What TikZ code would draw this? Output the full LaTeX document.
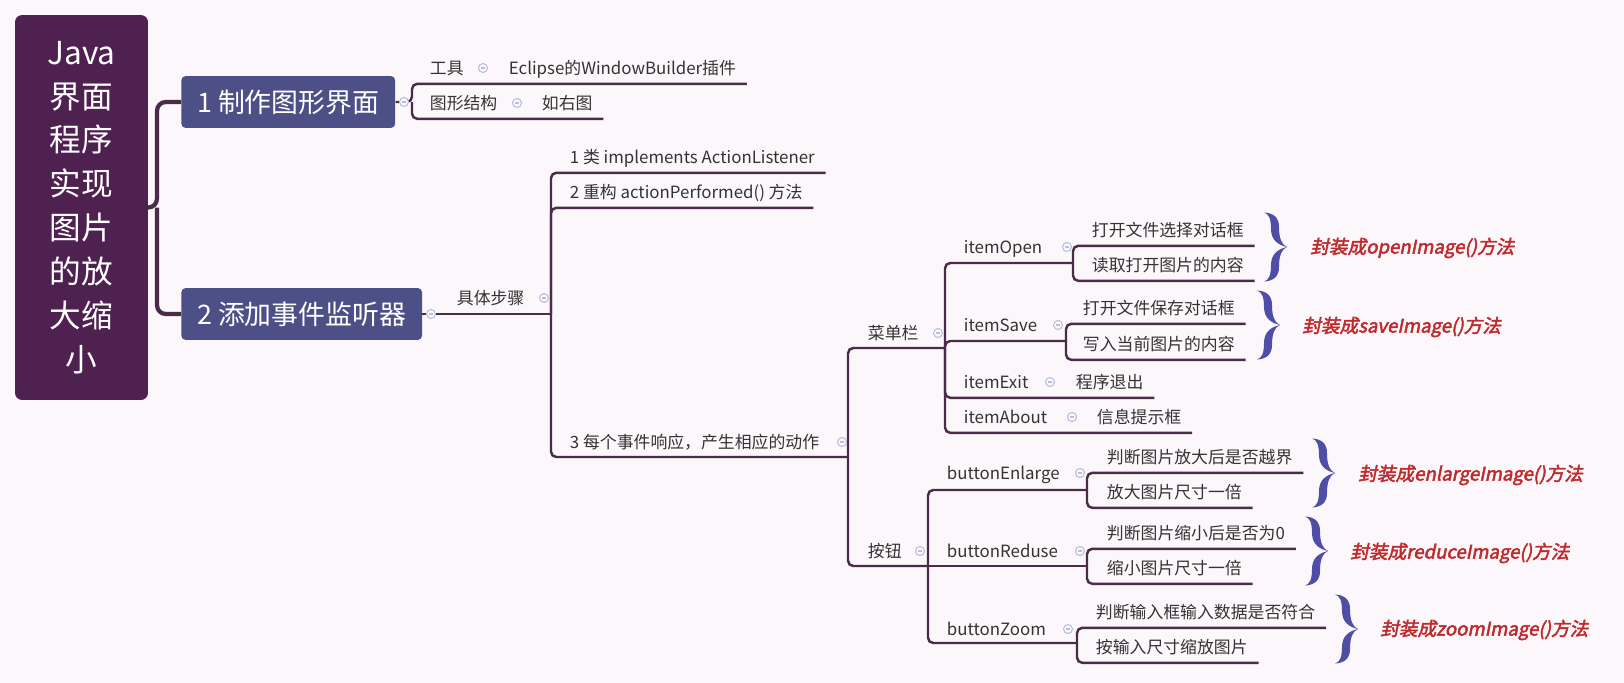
\documentclass[tikz,border=0pt]{standalone}
\usepackage{fontspec}
\setmainfont{Noto Sans CJK SC}
\newfontfamily\redfont{Noto Sans CJK SC}[FakeSlant=0.2, FakeBold=2.5]
\definecolor{Cbg}{HTML}{FCF7FB}
\definecolor{Croot}{HTML}{4F2151}
\definecolor{Ctop}{HTML}{4D5086}
\definecolor{Cln}{HTML}{4A2C48}
\definecolor{Ctx}{HTML}{333333}
\definecolor{Cbr}{HTML}{4E4EA6}
\definecolor{Cred}{HTML}{BF2A2C}
\definecolor{Cfold}{HTML}{B7BFD8}
\tikzset{
  rootn/.style  = {fill=Croot, text=white, rounded corners=4pt,
                   minimum width=2.66cm, minimum height=7.7cm,
                   align=center, font=\fontsize{18}{25}\selectfont, inner sep=0pt},
  topic/.style  = {fill=Ctop, text=white, rounded corners=2.5pt, anchor=west,
                   minimum height=1.04cm, inner xsep=9pt,
                   font=\fontsize{15.3}{18}\selectfont},
  lbl/.style    = {anchor=west, text=Ctx, font=\fontsize{9.6}{11}\selectfont,
                   text height=8.4pt, text depth=1.2pt, inner xsep=6pt, inner ysep=4pt},
  redl/.style   = {anchor=west, text=Cred, font=\redfont\fontsize{10.6}{12}\selectfont,
                   inner sep=0pt},
  foldm/.style  = {circle, draw=Cfold, fill=Cbg, line width=0.6pt,
                   minimum size=0.18cm, inner sep=0pt,
                   path picture={\draw[Cfold, line width=0.6pt]
                     ([xshift=1.3pt]path picture bounding box.west) --
                     ([xshift=-1.3pt]path picture bounding box.east);}},
  ln/.style     = {draw=Cln, line width=1.4pt, rounded corners=3pt},
  rootln/.style = {draw=Cln, line width=2.4pt, rounded corners=5pt},
  cbrace/.pic   = {
    \fill[Cbr] (0,0) .. controls (-5,-2) and (-8,-8) .. (-8,-20)
      .. controls (-8,-29) and (-13,-34) .. (-23,-34.5)
      .. controls (-18,-33) and (-16,-28) .. (-16,-18)
      .. controls (-16,-7) and (-9,-2) .. (0,0) -- cycle;
    \begin{scope}[yscale=-1]
    \fill[Cbr] (0,0) .. controls (-5,-2) and (-8,-8) .. (-8,-20)
      .. controls (-8,-29) and (-13,-34) .. (-23,-34.5)
      .. controls (-18,-33) and (-16,-28) .. (-16,-18)
      .. controls (-16,-7) and (-9,-2) .. (0,0) -- cycle;
    \end{scope}
  },
}

\begin{document}
\begin{tikzpicture}[x=0.02cm, y=-0.02cm]

\fill[Cbg] (0,0) rectangle (1624,683);

%%──────────────────────────────────────────────────
%% Root and main topics
%%──────────────────────────────────────────────────
\node[rootn] (root) at (81.5,207.5)
  {Java\\界面\\程序\\实现\\图片\\的放\\大缩\\小};

\node[topic] (t1) at (181,102) {1 制作图形界面};
\node[topic] (t2) at (181,314) {2 添加事件监听器};

\coordinate (jRoot) at (157,207.5);
\draw[rootln] (root.east) -- (jRoot) |- (t1.west);
\draw[rootln] (jRoot) |- (t2.west);

%%──────────────────────────────────────────────────
%% Topic 1
%%──────────────────────────────────────────────────
\node[lbl] (gongju)  at (419,68)  {工具};
\node[lbl] (eclipse) at (498,68)  {Eclipse的WindowBuilder插件};
\node[lbl] (jiegou)  at (419,103) {图形结构};
\node[lbl] (rutu)    at (531,103) {如右图};

\coordinate (jT1) at (412,102);
\draw[ln] (t1.east) -- (jT1) |- (eclipse.south east);
\draw[ln] (jT1) |- (rutu.south east);

%%──────────────────────────────────────────────────
%% Topic 2: steps
%%──────────────────────────────────────────────────
\node[lbl] (bz) at (446,298) {具体步骤};
\node[lbl] (s1) at (559,157) {1 类 implements ActionListener};
\node[lbl] (s2) at (559,192) {2 重构 actionPerformed() 方法};
\node[lbl] (s3) at (559,442) {3 每个事件响应，产生相应的动作};

\coordinate (jBz) at (551,314);
\coordinate (jS3) at (848,457);
\draw[ln] (t2.east) -- (jBz);
\draw[ln] (jBz) |- (s1.south east);
\draw[ln] (jBz) |- (s2.south east);
\draw[ln] (jBz) |- (jS3);

%%──────────────────────────────────────────────────
%% Menu items
%%──────────────────────────────────────────────────
\node[lbl] (menu)   at (857,333)  {菜单栏};
\node[lbl] (iopen)  at (953,247)  {itemOpen};
\node[lbl] (o1)     at (1081,230) {打开文件选择对话框};
\node[lbl] (o2)     at (1081,265) {读取打开图片的内容};
\node[lbl] (isave)  at (953,325)  {itemSave};
\node[lbl] (v1)     at (1072,308) {打开文件保存对话框};
\node[lbl] (v2)     at (1072,344) {写入当前图片的内容};
\node[lbl] (iexit)  at (953,382)  {itemExit};
\node[lbl] (x1)     at (1065,382) {程序退出};
\node[lbl] (iabout) at (953,417)  {itemAbout};
\node[lbl] (a1)     at (1086,417) {信息提示框};

\coordinate (jMenu) at (945,348);
\coordinate (jOpen) at (1073,263);
\coordinate (jSave) at (1066,341);
\draw[ln] (jS3) |- (jMenu);
\draw[ln] (jMenu) |- (jOpen);
\draw[ln] (jMenu) |- (jSave);
\draw[ln] (jMenu) |- (x1.south east);
\draw[ln] (jMenu) |- (a1.south east);
\draw[ln] (jOpen) |- (o1.south east);
\draw[ln] (jOpen) |- (o2.south east);
\draw[ln] (jSave) |- (v1.south east);
\draw[ln] (jSave) |- (v2.south east);

%%──────────────────────────────────────────────────
%% Buttons
%%──────────────────────────────────────────────────
\node[lbl] (btn)   at (857,551)  {按钮};
\node[lbl] (benl)  at (936,473)  {buttonEnlarge};
\node[lbl] (e1)    at (1096,457) {判断图片放大后是否越界};
\node[lbl] (e2)    at (1096,492) {放大图片尺寸一倍};
\node[lbl] (bred)  at (936,551)  {buttonReduse};
\node[lbl] (r1)    at (1096,533) {判断图片缩小后是否为0};
\node[lbl] (r2)    at (1096,568) {缩小图片尺寸一倍};
\node[lbl] (bzoom) at (936,629)  {buttonZoom};
\node[lbl] (z1)    at (1085,612) {判断输入框输入数据是否符合};
\node[lbl] (z2)    at (1085,647) {按输入尺寸缩放图片};

\coordinate (jBtn)  at (928,566);
\coordinate (jEnl)  at (1087,490);
\coordinate (jRed)  at (1087,566);
\coordinate (jZoom) at (1077,643);
\draw[ln] (jS3) |- (jBtn);
\draw[ln] (jBtn) |- (jEnl);
\draw[ln] (jBtn) -- (jRed);
\draw[ln] (jBtn) |- (jZoom);
\draw[ln] (jEnl) |- (e1.south east);
\draw[ln] (jEnl) |- (e2.south east);
\draw[ln] (jRed) |- (r1.south east);
\draw[ln] (jRed) |- (r2.south east);
\draw[ln] (jZoom) |- (z1.south east);
\draw[ln] (jZoom) |- (z2.south east);

%% Fold marks
\node[foldm] (f1)  at (404,102)  {};
\node[foldm] (f2)  at (431,314)  {};
\node[foldm] (f3)  at (483,68)   {};
\node[foldm] (f4)  at (517,103)  {};
\node[foldm] (f5)  at (544,298)  {};
\node[foldm] (f6)  at (842,442)  {};
\node[foldm] (f7)  at (938,333)  {};
\node[foldm] (f8)  at (1067,247) {};
\node[foldm] (f9)  at (1058,325) {};
\node[foldm] (f10) at (1050,382) {};
\node[foldm] (f11) at (1072,417) {};
\node[foldm] (f12) at (920,551)  {};
\node[foldm] (f13) at (1080,473) {};
\node[foldm] (f14) at (1080,551) {};
\node[foldm] (f15) at (1068,629) {};

%%──────────────────────────────────────────────────
%% Braces and notes
%%──────────────────────────────────────────────────
\pic at (1287,247) {cbrace};
\pic at (1280,325) {cbrace};
\pic at (1335,473) {cbrace};
\pic at (1328,551) {cbrace};
\pic at (1358,629) {cbrace};

\node[redl] (nOpen) at (1310,248) {封装成openImage()方法};
\node[redl] (nSave) at (1302,327) {封装成saveImage()方法};
\node[redl] (nEnl)  at (1358,475) {封装成enlargeImage()方法};
\node[redl] (nRed)  at (1350,553) {封装成reduceImage()方法};
\node[redl] (nZoom) at (1380,630) {封装成zoomImage()方法};

\end{tikzpicture}
\end{document}
